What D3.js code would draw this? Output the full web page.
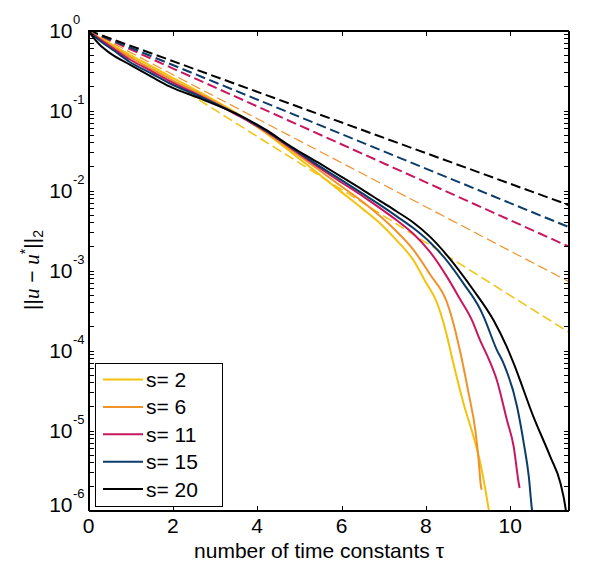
<!DOCTYPE html>
<html>
<head>
<meta charset="utf-8">
<script src="https://cdn.jsdelivr.net/npm/d3@7"></script>
<style>
  body { margin: 0; background: #fff; }
  svg { display: block; font-family: "Liberation Sans", Arial, sans-serif; }
  .axis path, .axis line { stroke: #000; stroke-width: 1; shape-rendering: crispEdges; }
</style>
</head>
<body>
<svg id="chart" width="600" height="580"></svg>
<script>
// Data

const xTicks = [0, 2, 4, 6, 8, 10];
const yExponents = [0, -1, -2, -3, -4, -5, -6];
const seriesNames = ["s= 2", "s= 6", "s= 11", "s= 15", "s= 20"];
const seriesColors = ["#f4c20d", "#f0922a", "#c8175e", "#0b3c6a", "#000000"];

// dashed reference lines (straight on the log axis)
const dashX = [0, 11.38];
const dashS2 = [1.0, 1.7e-4];
const dashS6 = [1.0, 7.3e-4];
const dashS11 = [1.0, 2.0e-3];
const dashS15 = [1.0, 3.5e-3];
const dashS20 = [1.0, 6.6e-3];

// solid curves
const s2X = [0, 0.3, 0.6, 0.97, 1.5, 1.92, 2.7, 3.5, 4.2, 4.8, 5.4, 6.0, 6.5, 6.91, 7.3, 7.7, 8.0, 8.26, 8.42, 8.5, 8.65, 8.89, 9.13, 9.29, 9.41, 9.49, 9.51];
const s2Y = [0.98, 0.794, 0.646, 0.501, 0.355, 0.269, 0.162, 0.0933, 0.0525, 0.0302, 0.0170, 0.00955, 0.00589, 0.00389, 0.00240, 0.00135, 7.08e-4, 3.98e-4, 2.19e-4, 1.51e-4, 6.92e-5, 2.19e-5, 8.32e-6, 3.89e-6, 1.82e-6, 1.02e-6, 8.9e-7];

const s6X = [0, 0.3, 0.6, 0.97, 1.5, 1.92, 2.7, 3.5, 4.2, 4.8, 5.4, 6.0, 6.5, 6.91, 7.3, 7.7, 8.1, 8.5, 8.61, 8.81, 9.01, 9.17, 9.25, 9.30, 9.32];
const s6Y = [0.98, 0.776, 0.617, 0.468, 0.331, 0.251, 0.155, 0.0912, 0.0537, 0.0324, 0.0191, 0.0112, 0.00724, 0.00479, 0.00309, 0.00182, 8.91e-4, 3.98e-4, 2.63e-4, 9.77e-5, 2.95e-5, 1.02e-5, 4.27e-6, 2.09e-6, 1.82e-6];

const s11X = [0, 0.3, 0.6, 0.97, 1.5, 1.92, 2.7, 3.5, 4.2, 4.8, 5.4, 6.0, 6.5, 6.91, 7.3, 7.7, 8.1, 8.5, 8.8, 9.09, 9.29, 9.5, 9.68, 9.92, 10.08, 10.2, 10.22];
const s11Y = [0.98, 0.759, 0.589, 0.437, 0.309, 0.234, 0.148, 0.0891, 0.0550, 0.0339, 0.0204, 0.0126, 0.00851, 0.00603, 0.00427, 0.00288, 0.00170, 8.32e-4, 4.47e-4, 2.40e-4, 1.32e-4, 7.59e-5, 4.27e-5, 1.35e-5, 6.31e-6, 2.19e-6, 1.91e-6];

const s15X = [0, 0.3, 0.6, 0.97, 1.5, 1.92, 2.7, 3.5, 4.2, 4.8, 5.4, 6.0, 6.5, 6.91, 7.3, 7.7, 8.1, 8.5, 8.9, 9.29, 9.37, 9.68, 9.84, 10.16, 10.32, 10.44, 10.51, 10.53];
const s15Y = [0.98, 0.724, 0.562, 0.407, 0.288, 0.219, 0.145, 0.0912, 0.0562, 0.0347, 0.0214, 0.0135, 0.00912, 0.00661, 0.00479, 0.00339, 0.00224, 0.00132, 6.76e-4, 3.24e-4, 2.63e-4, 1.02e-4, 6.92e-5, 2.00e-5, 6.92e-6, 2.63e-6, 1.07e-6, 8.9e-7];

const s20X = [0, 0.26, 0.5, 0.97, 1.5, 1.92, 2.7, 3.5, 4.2, 4.8, 5.44, 6.0, 6.5, 6.91, 7.3, 7.7, 8.1, 8.5, 9.12, 9.6, 9.92, 10.08, 10.55, 10.95, 11.19, 11.31, 11.33];
const s20Y = [0.98, 0.668, 0.525, 0.376, 0.263, 0.200, 0.138, 0.0912, 0.0575, 0.0355, 0.0224, 0.0148, 0.0102, 0.00741, 0.00550, 0.00398, 0.00263, 0.00155, 5.75e-4, 2.40e-4, 1.10e-4, 6.92e-5, 1.48e-5, 4.68e-6, 2.19e-6, 1.07e-6, 8.9e-7];

const dashSeries = [dashS2, dashS6, dashS11, dashS15, dashS20];
const solidSeries = [[s2X, s2Y], [s6X, s6Y], [s11X, s11Y], [s15X, s15Y], [s20X, s20Y]];
const dashWidths = [1.5, 1.2, 2, 2, 2];

// Layout
const plotLeft = 88.5, plotRight = 568.5, plotTop = 30.5, plotBottom = 510.5;

const svg = d3.select("#chart");

const x = d3.scaleLinear().domain([0, 11.38]).range([plotLeft, plotRight]);
const y = d3.scaleLog().domain([1e-6, 1]).range([plotBottom, plotTop]);

// log ticks: majors plus 2..9 minors
const yTickValues = [];
yExponents.forEach(e => {
  yTickValues.push(Math.pow(10, e));
  if (e < 0) {
    for (let m = 2; m <= 9; m++) yTickValues.push(m * Math.pow(10, e));
  }
});

svg.append("defs").append("clipPath").attr("id", "plotClip")
  .append("rect")
  .attr("x", plotLeft).attr("y", plotTop)
  .attr("width", plotRight - plotLeft).attr("height", plotBottom - plotTop);

const plot = svg.append("g").attr("clip-path", "url(#plotClip)");

const line = d3.line()
  .x(d => x(d[0]))
  .y(d => y(d[1]));

const smooth = d3.line()
  .x(d => x(d[0]))
  .y(d => y(d[1]))
  .curve(d3.curveMonotoneX);

// dashed lines first
dashSeries.forEach((vals, i) => {
  plot.append("path")
    .datum(dashX.map((xv, j) => [xv, vals[j]]))
    .attr("d", line)
    .attr("fill", "none")
    .attr("stroke", seriesColors[i])
    .attr("stroke-width", dashWidths[i])
    .attr("stroke-dasharray", "10,4.5");
});

// solid curves
solidSeries.forEach(([xs, ys], i) => {
  plot.append("path")
    .datum(xs.map((xv, j) => [xv, ys[j]]))
    .attr("d", smooth)
    .attr("fill", "none")
    .attr("stroke", seriesColors[i])
    .attr("stroke-width", 2)
    .attr("stroke-linejoin", "round");
});

// Axes (inward ticks on all four sides)
svg.append("g").attr("class", "axis")
  .attr("transform", `translate(0,${plotBottom})`)
  .call(d3.axisBottom(x).tickValues(xTicks).tickSize(-5).tickSizeOuter(0).tickFormat(""));
svg.append("g").attr("class", "axis")
  .attr("transform", `translate(0,${plotTop})`)
  .call(d3.axisTop(x).tickValues(xTicks).tickSize(-5).tickSizeOuter(0).tickFormat(""));
svg.append("g").attr("class", "axis")
  .attr("transform", `translate(${plotLeft},0)`)
  .call(d3.axisLeft(y).tickValues(yTickValues).tickSize(-5).tickSizeOuter(0).tickFormat(""));
svg.append("g").attr("class", "axis")
  .attr("transform", `translate(${plotRight},0)`)
  .call(d3.axisRight(y).tickValues(yTickValues).tickSize(-5).tickSizeOuter(0).tickFormat(""));

svg.selectAll(".axis text").remove();

// x tick labels
svg.append("g").selectAll("text")
  .data(xTicks)
  .join("text")
  .attr("x", d => x(d))
  .attr("y", 533)
  .attr("text-anchor", "middle")
  .attr("font-size", 21)
  .text(d => d);

// y tick labels: 10 with superscript exponent
const yLab = svg.append("g").selectAll("g")
  .data(yExponents)
  .join("g")
  .attr("transform", d => `translate(0,${y(Math.pow(10, d)) - (d === -6 ? 6 : 0)})`);
yLab.append("text")
  .attr("x", 72.5)
  .attr("y", 7.5)
  .attr("text-anchor", "end")
  .attr("font-size", 21)
  .text("10");
yLab.append("text")
  .attr("x", 73)
  .attr("y", -6.5)
  .attr("font-size", 13)
  .text(d => d === 0 ? "0" : "-" + Math.abs(d));

// x label
svg.append("text")
  .attr("x", 319)
  .attr("y", 558)
  .attr("text-anchor", "middle")
  .attr("font-size", 21)
  .text("number of time constants \u03c4");

// y label ||u - u*||_2
const yTitle = svg.append("text")
  .attr("transform", "translate(39,270) rotate(-90)")
  .attr("text-anchor", "middle")
  .attr("font-size", 21);
yTitle.append("tspan").text("||");
yTitle.append("tspan").attr("font-family", "Liberation Serif, serif").attr("font-style", "italic").text("u");
yTitle.append("tspan").text(" \u2212 ");
yTitle.append("tspan").attr("font-family", "Liberation Serif, serif").attr("font-style", "italic").text("u");
yTitle.append("tspan").attr("font-size", 14).attr("dy", -9).text("*");
yTitle.append("tspan").attr("dy", 9).text("||");
yTitle.append("tspan").attr("font-size", 14).attr("dy", 4).text("2");

// frame
svg.append("rect")
  .attr("x", plotLeft).attr("y", plotTop)
  .attr("width", plotRight - plotLeft).attr("height", plotBottom - plotTop)
  .attr("fill", "none")
  .attr("stroke", "#000")
  .attr("shape-rendering", "crispEdges");

// legend
const legend = svg.append("g");
legend.append("rect")
  .attr("x", 95.5).attr("y", 363.5)
  .attr("width", 127).attr("height", 143)
  .attr("fill", "#fff")
  .attr("stroke", "#000")
  .attr("shape-rendering", "crispEdges");

const rows = legend.selectAll("g.row")
  .data(seriesNames)
  .join("g")
  .attr("class", "row")
  .attr("transform", (d, i) => `translate(0,${379.5 + i * 27.4})`);
rows.append("line")
  .attr("x1", 103).attr("x2", 143)
  .attr("stroke", (d, i) => seriesColors[i])
  .attr("stroke-width", 2);
rows.append("text")
  .attr("x", 146)
  .attr("y", 7.5)
  .attr("font-size", 21)
  .text(d => d);
</script>
</body>
</html>
